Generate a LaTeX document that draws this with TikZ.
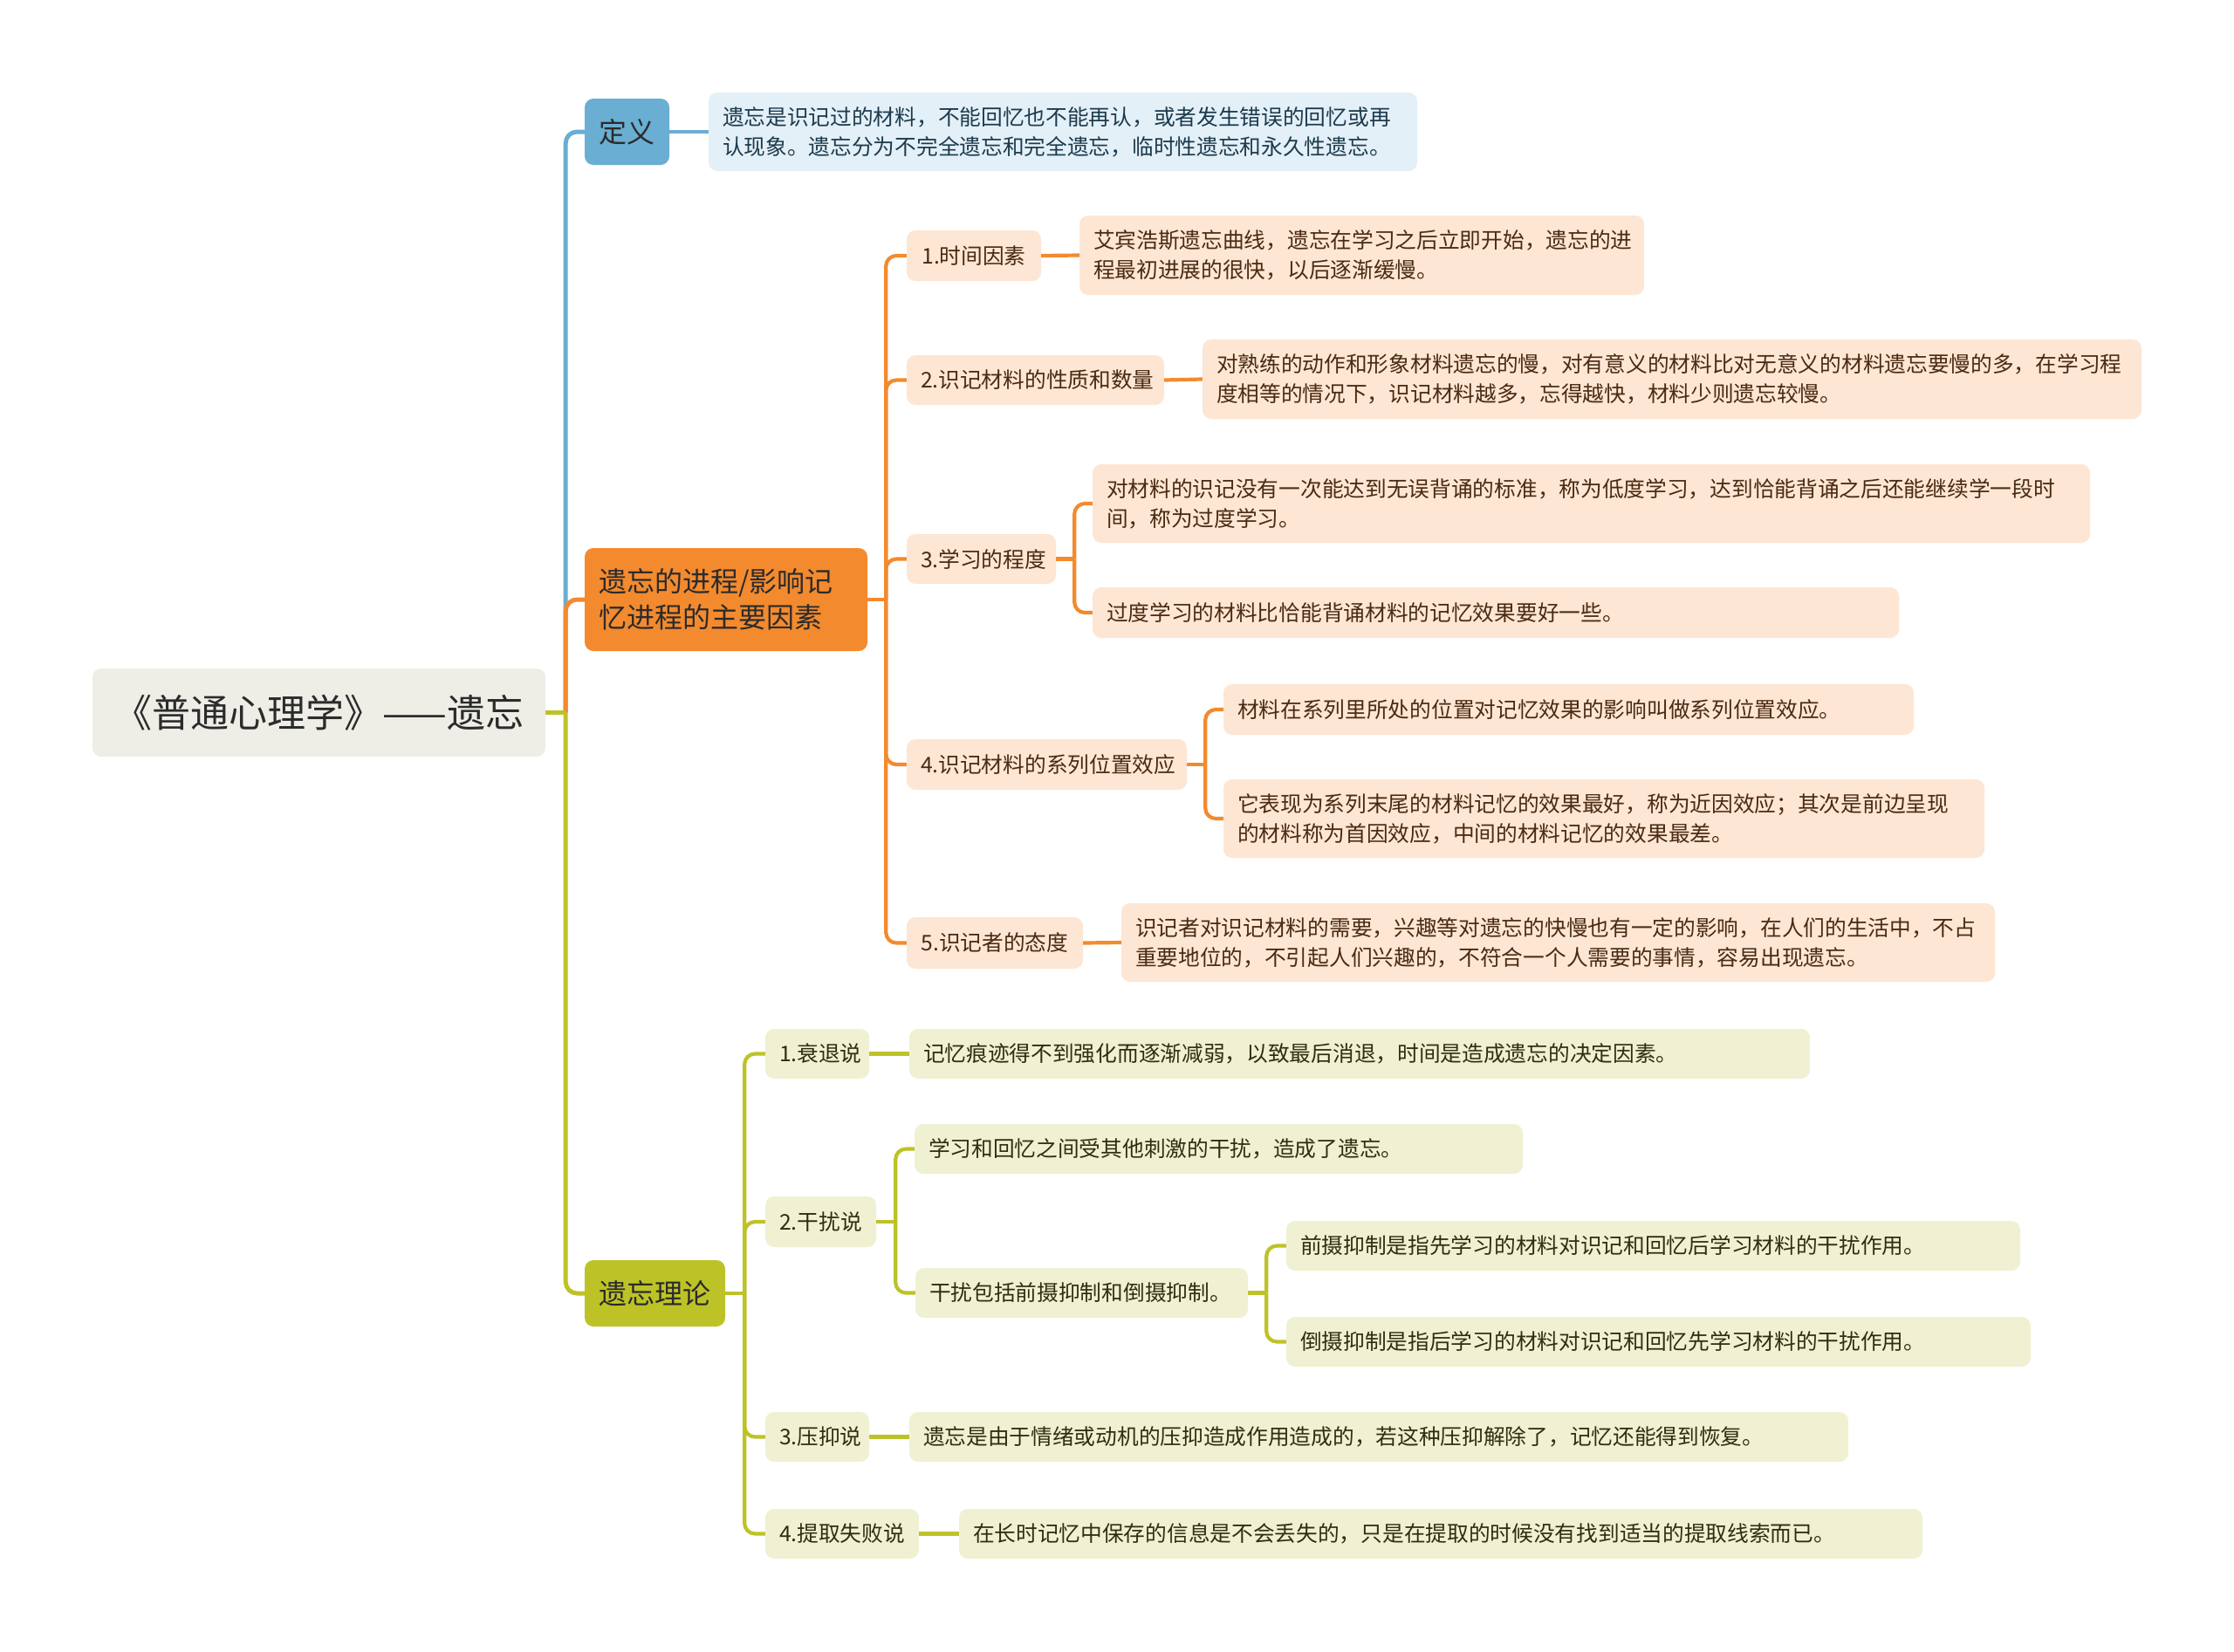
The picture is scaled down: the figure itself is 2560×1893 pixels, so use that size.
\documentclass[tikz,border=0pt]{standalone}
\usepackage{fontspec}
\setmainfont{Noto Sans CJK SC}
\definecolor{rootfill}{HTML}{EEEDE6}
\definecolor{bluemain}{HTML}{6AAED3}
\definecolor{bluelight}{HTML}{E3F0F8}
\definecolor{bluetext}{HTML}{1C3A4C}
\definecolor{orangemain}{HTML}{F38A2E}
\definecolor{orangelight}{HTML}{FDE6D4}
\definecolor{orangetext}{HTML}{4A2A12}
\definecolor{olivemain}{HTML}{BDC327}
\definecolor{olivelight}{HTML}{F0F1D3}
\definecolor{olivetext}{HTML}{2E2E12}
\definecolor{maintext}{HTML}{2B2B2B}
\tikzset{
  box/.style={rounded corners=10pt, inner sep=0pt, font=\fontsize{24.7}{34}\selectfont},
  lbl/.style={box, align=center},
  det/.style={box, align=left},
  rootbox/.style={box, align=center, fill=rootfill, text=maintext, font=\fontsize{44}{52}\selectfont},
  topbox/.style={box, fill=#1main, text=maintext, font=\fontsize{32}{41}\selectfont},
  sublbl/.style={lbl, fill=#1light, text=#1text},
  subdet/.style={det, fill=#1light, text=#1text},
  link/.style={line width=5pt, draw=#1main, rounded corners=13pt},
  sublink/.style={line width=4.2pt, draw=#1main, rounded corners=12pt},
}
\newcommand\bx[7]{%
  \pgfmathsetmacro\bxw{#3-#1}\pgfmathsetmacro\bxh{#4-#2}%
  \pgfmathsetmacro\bxcx{(#1+#3)/2}\pgfmathsetmacro\bxcy{(#2+#4)/2}%
  \pgfmathsetmacro\bxtw{#3-#1-32}%
  \node[#6, minimum width=\bxw pt, minimum height=\bxh pt, text width=\bxtw pt] (#5) at (\bxcx,\bxcy) {#7};}
\begin{document}
\begin{tikzpicture}[x=1pt,y=-1pt]
\useasboundingbox[fill=white] (0,0) rectangle (2560,1893);

% root
\bx{106}{766}{625}{867}{root}{rootbox}{《普通心理学》——遗忘}

% level 1
\bx{670}{113}{767}{189}{def}{topbox=blue, align=center}{定义}
\bx{670}{628}{994}{746}{proc}{topbox=orange, align=left}{遗忘的进程/影响记\\忆进程的主要因素}
\bx{670}{1444}{831}{1520}{theo}{topbox=olive, align=center}{遗忘理论}

% definition
\bx{812}{106}{1624}{196}{defd}{subdet=blue}{遗忘是识记过的材料，不能回忆也不能再认，或者发生错误的回忆或再\\认现象。遗忘分为不完全遗忘和完全遗忘，临时性遗忘和永久性遗忘。}

% orange subtree
\bx{1039}{264}{1193}{322}{o1}{sublbl=orange}{1.时间因素}
\bx{1237}{247}{1884}{338}{o1d}{subdet=orange}{艾宾浩斯遗忘曲线，遗忘在学习之后立即开始，遗忘的进\\程最初进展的很快，以后逐渐缓慢。}
\bx{1039}{407}{1334}{464}{o2}{sublbl=orange}{2.识记材料的性质和数量}
\bx{1378}{389}{2454}{480}{o2d}{subdet=orange}{对熟练的动作和形象材料遗忘的慢，对有意义的材料比对无意义的材料遗忘要慢的多，在学习程\\度相等的情况下，识记材料越多，忘得越快，材料少则遗忘较慢。}
\bx{1039}{612}{1210}{669}{o3}{sublbl=orange}{3.学习的程度}
\bx{1252}{532}{2395}{622}{o3a}{subdet=orange}{对材料的识记没有一次能达到无误背诵的标准，称为低度学习，达到恰能背诵之后还能继续学一段时\\间，称为过度学习。}
\bx{1252}{673}{2176}{731}{o3b}{subdet=orange}{过度学习的材料比恰能背诵材料的记忆效果要好一些。}
\bx{1039}{847}{1360}{905}{o4}{sublbl=orange}{4.识记材料的系列位置效应}
\bx{1402}{784}{2193}{842}{o4a}{subdet=orange}{材料在系列里所处的位置对记忆效果的影响叫做系列位置效应。}
\bx{1402}{893}{2274}{983}{o4b}{subdet=orange}{它表现为系列末尾的材料记忆的效果最好，称为近因效应；其次是前边呈现\\的材料称为首因效应，中间的材料记忆的效果最差。}
\bx{1039}{1051}{1241}{1110}{o5}{sublbl=orange}{5.识记者的态度}
\bx{1285}{1035}{2286}{1125}{o5d}{subdet=orange}{识记者对识记材料的需要，兴趣等对遗忘的快慢也有一定的影响，在人们的生活中，不占\\重要地位的，不引起人们兴趣的，不符合一个人需要的事情，容易出现遗忘。}

% olive subtree
\bx{877}{1179}{996}{1236}{g1}{sublbl=olive}{1.衰退说}
\bx{1042}{1179}{2074}{1236}{g1d}{subdet=olive}{记忆痕迹得不到强化而逐渐减弱，以致最后消退，时间是造成遗忘的决定因素。}
\bx{877}{1371}{1004}{1429}{g2}{sublbl=olive}{2.干扰说}
\bx{1048}{1288}{1745}{1345}{g2a}{subdet=olive}{学习和回忆之间受其他刺激的干扰，造成了遗忘。}
\bx{1049}{1453}{1430}{1510}{g2b}{subdet=olive}{干扰包括前摄抑制和倒摄抑制。}
\bx{1474}{1399}{2315}{1456}{g2b1}{subdet=olive}{前摄抑制是指先学习的材料对识记和回忆后学习材料的干扰作用。}
\bx{1474}{1509}{2327}{1566}{g2b2}{subdet=olive}{倒摄抑制是指后学习的材料对识记和回忆先学习材料的干扰作用。}
\bx{877}{1618}{996}{1675}{g3}{sublbl=olive}{3.压抑说}
\bx{1042}{1618}{2118}{1675}{g3d}{subdet=olive}{遗忘是由于情绪或动机的压抑造成作用造成的，若这种压抑解除了，记忆还能得到恢复。}
\bx{877}{1729}{1053}{1786}{g4}{sublbl=olive}{4.提取失败说}
\bx{1099}{1729}{2203}{1786}{g4d}{subdet=olive}{在长时记忆中保存的信息是不会丢失的，只是在提取的时候没有找到适当的提取线索而已。}

% junctions
\coordinate (jr) at ([xshift=23pt]root.east);
\coordinate (jp) at ([xshift=21pt]proc.east);
\coordinate (jo3) at ([xshift=21pt]o3.east);
\coordinate (jo4) at ([xshift=21pt]o4.east);
\coordinate (jt) at ([xshift=22pt]theo.east);
\coordinate (jg2) at ([xshift=22pt]g2.east);
\coordinate (jg2b) at ([xshift=21pt]g2b.east);

% root links
\draw[link=blue] (jr) |- (def.west);
\draw[link=orange] (jr) |- (proc.west);
\draw[link=olive] (jr) |- (theo.west);
\draw[link=olive] (root.east) -- (jr);

% blue
\draw[sublink=blue] (def.east) -- (defd.west);

% orange
\draw[sublink=orange] (proc.east) -- (jp);
\foreach \c in {o1,o2,o3,o4,o5} \draw[sublink=orange] (jp) |- (\c.west);
\draw[sublink=orange] (o1.east) -- (o1d.west);
\draw[sublink=orange] (o2.east) -- (o2d.west);
\draw[sublink=orange] (o3.east) -- (jo3);
\draw[sublink=orange] (jo3) |- (o3a.west);
\draw[sublink=orange] (jo3) |- (o3b.west);
\draw[sublink=orange] (o4.east) -- (jo4);
\draw[sublink=orange] (jo4) |- (o4a.west);
\draw[sublink=orange] (jo4) |- (o4b.west);
\draw[sublink=orange] (o5.east) -- (o5d.west);

% olive
\draw[sublink=olive] (theo.east) -- (jt);
\foreach \c in {g1,g2,g3,g4} \draw[sublink=olive] (jt) |- (\c.west);
\draw[sublink=olive] (g1.east) -- (g1d.west);
\draw[sublink=olive] (g2.east) -- (jg2);
\draw[sublink=olive] (jg2) |- (g2a.west);
\draw[sublink=olive] (jg2) |- (g2b.west);
\draw[sublink=olive] (g2b.east) -- (jg2b);
\draw[sublink=olive] (jg2b) |- (g2b1.west);
\draw[sublink=olive] (jg2b) |- (g2b2.west);
\draw[sublink=olive] (g3.east) -- (g3d.west);
\draw[sublink=olive] (g4.east) -- (g4d.west);
\end{tikzpicture}
\end{document}
